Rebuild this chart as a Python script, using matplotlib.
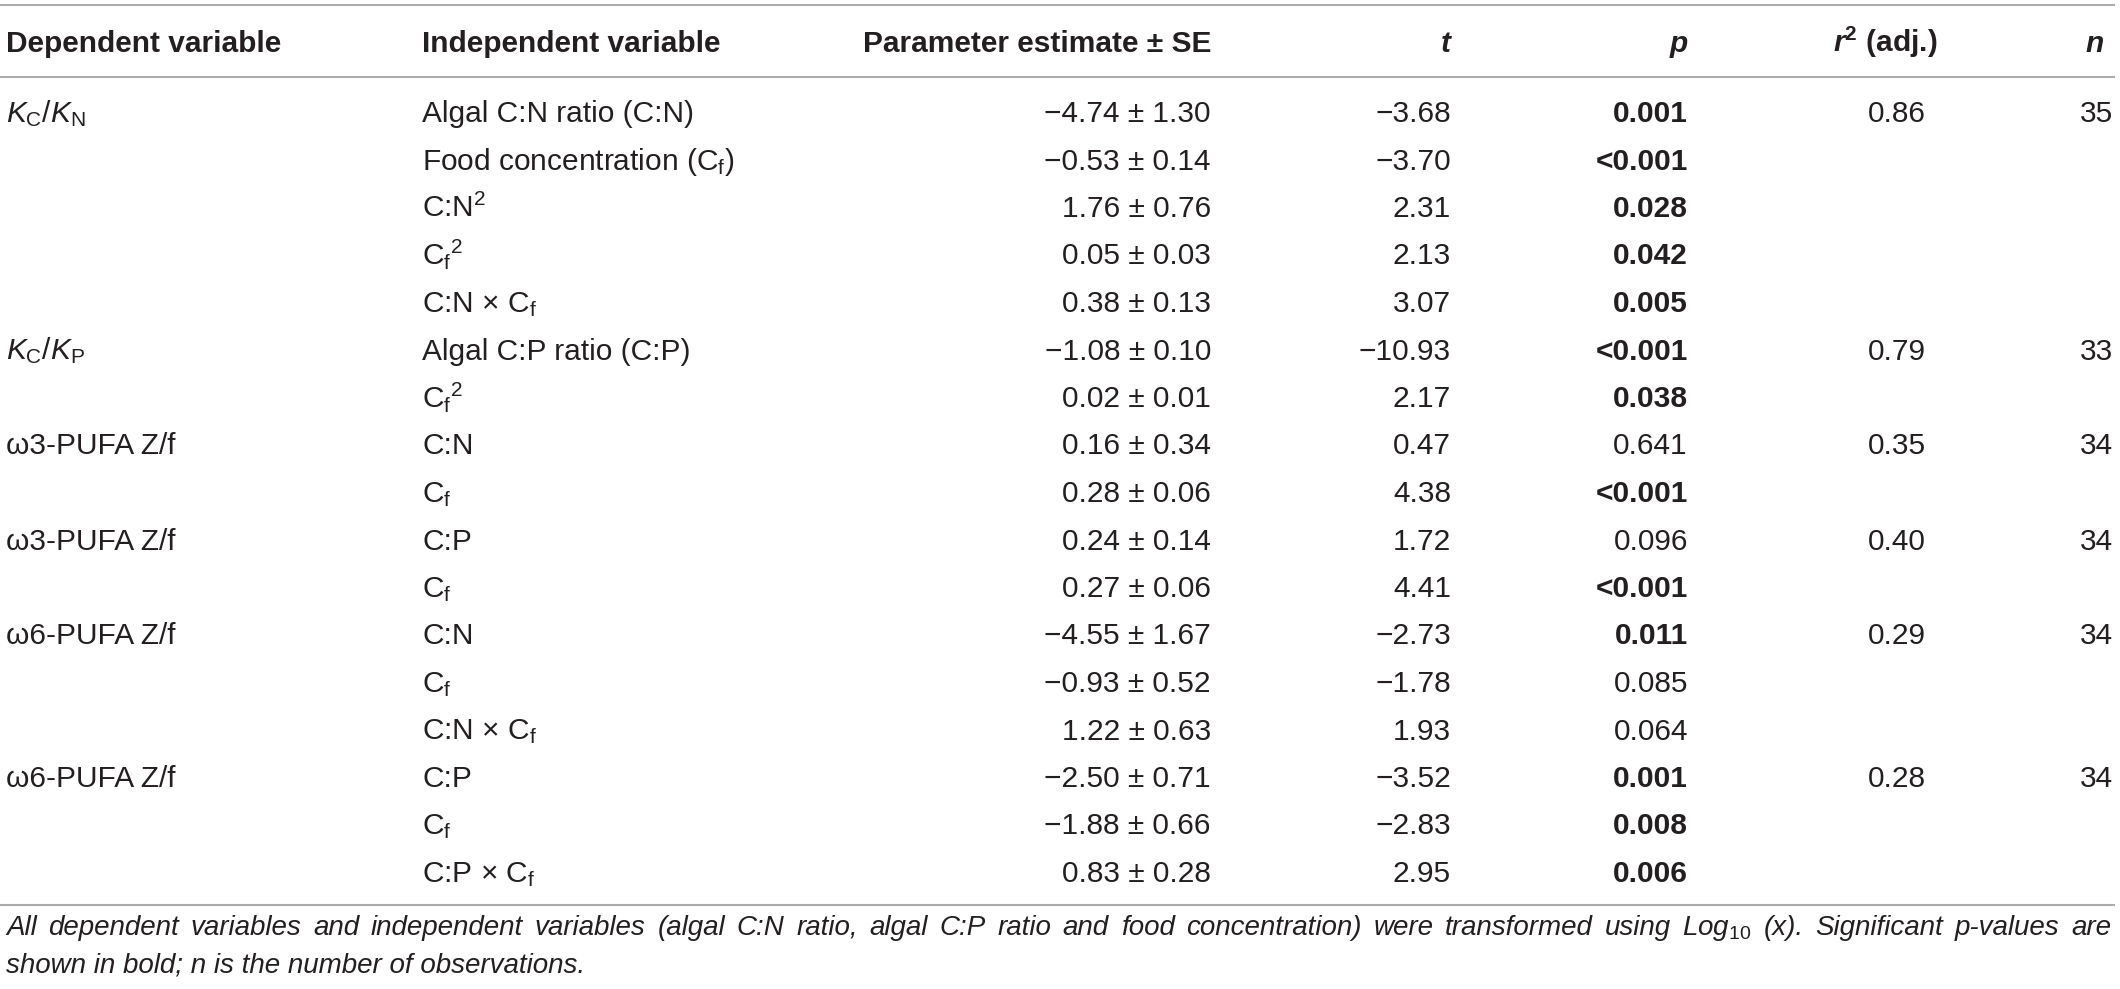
import matplotlib
matplotlib.use("Agg")
import matplotlib.pyplot as plt

plt.rcParams["font.family"] = ["Liberation Sans", "DejaVu Sans"]
plt.rcParams["mathtext.fontset"] = "custom"
plt.rcParams["mathtext.rm"] = "Liberation Sans"
plt.rcParams["mathtext.it"] = "Liberation Sans:italic"
plt.rcParams["mathtext.bf"] = "Liberation Sans:bold"
plt.rcParams["mathtext.bfit"] = "Liberation Sans:italic:bold"

# table data
dep_var = [r"$K_\mathrm{C}/K_\mathrm{N}$", r"$K_\mathrm{C}/K_\mathrm{P}$",
           "ω3-PUFA Z/f", "ω3-PUFA Z/f", "ω6-PUFA Z/f", "ω6-PUFA Z/f"]
group_size = [5, 2, 2, 2, 3, 3]
r2_adj = [0.86, 0.79, 0.35, 0.40, 0.29, 0.28]
n_obs = [35, 33, 34, 34, 34, 34]

indep_var = ["Algal C:N ratio (C:N)", r"Food concentration (C$_\mathrm{f}$)",
             r"C:N$^2$", r"C$_\mathrm{f}$$^2$", r"C:N $\times$ C$_\mathrm{f}$",
             "Algal C:P ratio (C:P)", r"C$_\mathrm{f}$$^2$",
             "C:N", r"C$_\mathrm{f}$",
             "C:P", r"C$_\mathrm{f}$",
             "C:N", r"C$_\mathrm{f}$", r"C:N $\times$ C$_\mathrm{f}$",
             "C:P", r"C$_\mathrm{f}$", r"C:P $\times$ C$_\mathrm{f}$"]
estimate = [-4.74, -0.53, 1.76, 0.05, 0.38, -1.08, 0.02, 0.16, 0.28,
            0.24, 0.27, -4.55, -0.93, 1.22, -2.50, -1.88, 0.83]
std_err = [1.30, 0.14, 0.76, 0.03, 0.13, 0.10, 0.01, 0.34, 0.06,
           0.14, 0.06, 1.67, 0.52, 0.63, 0.71, 0.66, 0.28]
t_val = [-3.68, -3.70, 2.31, 2.13, 3.07, -10.93, 2.17, 0.47, 4.38,
         1.72, 4.41, -2.73, -1.78, 1.93, -3.52, -2.83, 2.95]
p_val = ["0.001", "<0.001", "0.028", "0.042", "0.005", "<0.001", "0.038",
         "0.641", "<0.001", "0.096", "<0.001", "0.011", "0.085", "0.064",
         "0.001", "0.008", "0.006"]

footnote_1 = ("All dependent variables and independent variables (algal C:N ratio, "
              "algal C:P ratio and food concentration) were transformed using "
              r"Log$_{\mathit{10}}$ (x). Significant p-values are")
footnote_2 = "shown in bold; n is the number of observations."

W, H = 2120, 989
fig = plt.figure(figsize=(W / 100, H / 100), dpi=100)
ax = fig.add_axes([0, 0, 1, 1])
ax.set_xlim(0, W)
ax.set_ylim(H, 0)
ax.axis("off")

ink = "#231f20"
rule = "#ababab"
fs = 21.5


def fmt(v):
    return f"{v:.2f}".replace("-", "\u2212")


# rules
for y in [5, 77, 905]:
    ax.plot([0, 2115], [y, y], color=rule, lw=1.5, solid_capstyle="butt")

# header
hy = 52
ax.text(6, hy, "Dependent variable", fontsize=fs, weight="bold", color=ink, va="baseline")
ax.text(422, hy, "Independent variable", fontsize=fs, weight="bold", color=ink, va="baseline")
ax.text(1211, hy, "Parameter estimate ± SE", fontsize=fs, weight="bold", color=ink,
        va="baseline", ha="right")
ax.text(1451, hy, "t", fontsize=fs, weight="bold", style="italic", color=ink,
        va="baseline", ha="right")
ax.text(1688, hy, "p", fontsize=fs, weight="bold", style="italic", color=ink,
        va="baseline", ha="right")
ax.text(1885, hy, r"$\mathbfit{r}^\mathbf{2}$ (adj.)", fontsize=fs, weight="bold",
        color=ink, va="baseline", ha="center")
ax.text(2104, hy, "n", fontsize=fs, weight="bold", style="italic", color=ink,
        va="baseline", ha="right")

# body
y0, dy = 122, 47.5
row = 0
for g, size in enumerate(group_size):
    y = y0 + dy * row
    ax.text(6, y, dep_var[g], fontsize=fs, color=ink, va="baseline")
    ax.text(1897, y, f"{r2_adj[g]:.2f}", fontsize=fs, color=ink, va="baseline", ha="center")
    ax.text(2113, y, str(n_obs[g]), fontsize=fs, color=ink, va="baseline", ha="right")
    row += size

for i in range(len(indep_var)):
    y = y0 + dy * i
    ax.text(422, y, indep_var[i], fontsize=fs, color=ink, va="baseline")
    ax.text(1211, y, f"{fmt(estimate[i])} ± {std_err[i]:.2f}", fontsize=fs,
            color=ink, va="baseline", ha="right")
    ax.text(1451, y, fmt(t_val[i]), fontsize=fs, color=ink, va="baseline", ha="right")
    sig = p_val[i].startswith("<") or float(p_val[i]) < 0.05
    ax.text(1688, y, p_val[i], fontsize=fs, color=ink, va="baseline", ha="right",
            weight="bold" if sig else "normal")

# footnote, first line justified
ffs = 20
words = footnote_1.split(" ")
texts = [ax.text(0, 935, w, fontsize=ffs, style="italic", color=ink, va="baseline")
         for w in words]
fig.canvas.draw()
renderer = fig.canvas.get_renderer()
widths = [t.get_window_extent(renderer).width for t in texts]
left, right = 6, 2111
gap = (right - left - sum(widths)) / (len(words) - 1)
x = left
for t, w in zip(texts, widths):
    t.set_x(x)
    x += w + gap
ax.text(left, 972, footnote_2, fontsize=ffs, style="italic", color=ink, va="baseline")

fig.savefig("out.png", dpi=100)
